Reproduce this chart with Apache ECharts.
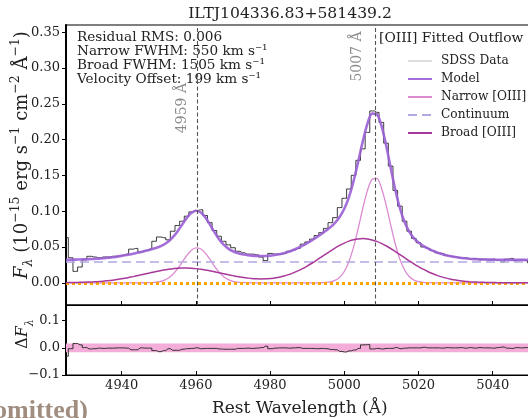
<!DOCTYPE html>
<html><head><meta charset="utf-8">
<script src="https://cdn.jsdelivr.net/npm/echarts@6/dist/echarts.min.js"></script>
<style>html,body{margin:0;padding:0;background:#fff}#c{width:528px;height:418px}</style>
</head><body><div id="c"></div>
<script>
// ---------- data ----------
const wavelength = [
4925,4926.25,4927.5,4928.75,4930,4931.25,4932.5,4933.75,4935,4936.25,
4937.5,4938.75,4940,4941.25,4942.5,4943.75,4945,4946.25,4947.5,4948.75,
4950,4951.25,4952.5,4953.75,4955,4956.25,4957.5,4958.75,4960,4961.25,
4962.5,4963.75,4965,4966.25,4967.5,4968.75,4970,4971.25,4972.5,4973.75,
4975,4976.25,4977.5,4978.75,4980,4981.25,4982.5,4983.75,4985,4986.25,
4987.5,4988.75,4990,4991.25,4992.5,4993.75,4995,4996.25,4997.5,4998.75,
5000,5001.25,5002.5,5003.75,5005,5006.25,5007.5,5008.75,5010,5011.25,
5012.5,5013.75,5015,5016.25,5017.5,5018.75,5020,5021.25,5022.5,5023.75,
5025,5026.25,5027.5,5028.75,5030,5031.25,5032.5,5033.75,5035,5036.25,
5037.5,5038.75,5040,5041.25,5042.5,5043.75,5045,5046.25,5047.5,5048.75,
5050];
const sdssFlux = [
0.063,0.035,0.016,0.022,0.032,0.037,0.036,0.035,0.036,0.036,
0.037,0.037,0.038,0.040,0.047,0.048,0.043,0.045,0.047,0.058,
0.064,0.063,0.060,0.072,0.080,0.086,0.093,0.099,0.101,0.102,
0.094,0.084,0.073,0.065,0.058,0.053,0.049,0.044,0.042,0.040,
0.040,0.039,0.036,0.031,0.041,0.040,0.040,0.041,0.044,0.046,
0.048,0.054,0.057,0.061,0.066,0.070,0.076,0.084,0.091,0.105,
0.118,0.131,0.150,0.171,0.187,0.210,0.240,0.238,0.224,0.195,
0.163,0.129,0.107,0.086,0.072,0.062,0.056,0.050,0.048,0.045,
0.042,0.041,0.038,0.037,0.036,0.034,0.035,0.033,0.034,0.032,
0.033,0.032,0.033,0.031,0.029,0.033,0.034,0.031,0.032,0.031,
0.028];
const modelFlux = [
0.0322,0.0323,0.0324,0.0326,0.0328,0.0331,0.0334,0.0338,0.0343,0.0350,
0.0357,0.0366,0.0376,0.0388,0.0400,0.0414,0.0428,0.0444,0.0459,0.0478,
0.0499,0.0529,0.0572,0.0633,0.0713,0.0808,0.0903,0.0975,0.1007,0.0985,
0.0917,0.0817,0.0708,0.0610,0.0533,0.0478,0.0441,0.0416,0.0399,0.0389,
0.0380,0.0376,0.0374,0.0375,0.0379,0.0388,0.0399,0.0414,0.0434,0.0458,
0.0486,0.0518,0.0554,0.0593,0.0634,0.0678,0.0726,0.0777,0.0838,0.0918,
0.1033,0.1197,0.1420,0.1691,0.1978,0.2223,0.2363,0.2355,0.2198,0.1928,
0.1609,0.1299,0.1041,0.0848,0.0715,0.0624,0.0562,0.0516,0.0480,0.0449,
0.0424,0.0403,0.0385,0.0371,0.0359,0.0349,0.0342,0.0336,0.0331,0.0328,
0.0326,0.0324,0.0323,0.0322,0.0321,0.0321,0.0320,0.0320,0.0320,0.0320,
0.0320];
const narrowFlux = [
0,0,0,0,0,0,0,0,0,0,
0,0,0,0,0,0,0,0.0001,0.0002,0.0006,
0.0014,0.0031,0.0064,0.0116,0.0191,0.0283,0.0377,0.0452,0.0489,0.0475,
0.0417,0.0329,0.0233,0.0149,0.0086,0.0045,0.0021,0.0009,0.0003,0.0001,
0,0,0,0,0,0,0,0,0,0,
0,0,0,0,0,0.0001,0.0005,0.0013,0.0033,0.0076,
0.0158,0.0295,0.0498,0.0758,0.1041,0.1291,0.1444,0.1457,0.1328,0.1091,
0.0810,0.0542,0.0327,0.0178,0.0088,0.0039,0.0016,0.0006,0.0002,0,
0,0,0,0,0,0,0,0,0,0,
0,0,0,0,0,0,0,0,0,0,
0];
const broadFlux = [
0.0002,0.0003,0.0004,0.0006,0.0008,0.0011,0.0014,0.0018,0.0023,0.0030,
0.0037,0.0046,0.0056,0.0068,0.0080,0.0094,0.0108,0.0123,0.0137,0.0152,
0.0165,0.0178,0.0188,0.0197,0.0202,0.0205,0.0206,0.0203,0.0198,0.0190,
0.0180,0.0168,0.0155,0.0141,0.0127,0.0113,0.0100,0.0087,0.0076,0.0068,
0.0060,0.0056,0.0054,0.0055,0.0059,0.0068,0.0079,0.0094,0.0114,0.0138,
0.0166,0.0198,0.0234,0.0273,0.0314,0.0357,0.0401,0.0444,0.0485,0.0522,
0.0555,0.0582,0.0602,0.0613,0.0617,0.0612,0.0599,0.0578,0.0550,0.0517,
0.0479,0.0437,0.0394,0.0350,0.0307,0.0265,0.0226,0.0190,0.0158,0.0129,
0.0104,0.0083,0.0065,0.0051,0.0039,0.0029,0.0022,0.0016,0.0011,0.0008,
0.0006,0.0004,0.0003,0.0002,0.0001,0.0001,0,0,0,0,
0];
const residual = [
-0.031,-0.003,0.016,0.011,0.001,-0.004,-0.003,-0.001,-0.002,-0.001,
-0.001,0,0,-0.001,-0.007,-0.007,0,-0.001,-0.001,-0.010,
-0.014,-0.010,-0.003,-0.009,-0.009,-0.005,-0.003,-0.002,0,-0.003,
-0.002,-0.002,-0.002,-0.004,-0.005,-0.005,-0.005,-0.002,-0.002,-0.001,
-0.002,-0.001,0.001,0.006,-0.003,-0.001,0,0,-0.001,0,
0.001,-0.002,-0.002,-0.002,-0.003,-0.002,-0.003,-0.006,-0.007,-0.013,
-0.015,-0.011,-0.008,-0.002,0.011,0.012,-0.004,-0.002,-0.004,-0.002,
-0.002,0.001,-0.003,-0.001,0,0,0,0.002,0,0,
0,-0.001,0.001,0,0,0.001,-0.001,0.001,-0.001,0.001,
0,0,-0.001,0.001,0.003,-0.001,-0.002,0.001,0,0.001,
0.004];
const continuumLevel = 0.032;
const residualBand = 0.016;
const lineCenters = [4960.295, 5008.24];
const lineLabels = ['4959 Å', '5007 Å'];
const xTicks = [4940, 4960, 4980, 5000, 5020, 5040];
const yTicks = [0, 0.05, 0.10, 0.15, 0.20, 0.25, 0.30, 0.35];
const residTicks = [-0.1, 0, 0.1];
const legendNames = ['SDSS Data', 'Model', 'Narrow [OIII]', 'Continuum', 'Broad [OIII]'];
const titleText = 'ILTJ104336.83+581439.2';
const infoLines = ['Residual RMS: 0.006', 'Narrow FWHM: 550 km s\u207B\u00B9', 'Broad FWHM: 1505 km s\u207B\u00B9', 'Velocity Offset: 199 km s\u207B\u00B9'];

// ---------- chart ----------
const FONT = 'DejaVu Serif';
const C_MODEL = '#9b5fd5', C_NARROW = '#dc8ad2', C_CONT = '#b3a8e2', C_BROAD = '#a8399a';
const chart = echarts.init(document.getElementById('c'), null, {renderer: 'canvas'});
const pts = arr => wavelength.map((w, i) => [w, arr[i]]);
const minus = s => String(s).replace('-', '\u2212');

const xBase = gi => ({
  type: 'value', gridIndex: gi, min: 4925, max: 5051,
  axisLine: {show: true, onZero: false, lineStyle: {color: '#000', width: 1.2}},
  axisTick: {show: true, inside: true, length: 4, customValues: xTicks, lineStyle: {color: '#000', width: 1}},
  splitLine: {show: false}
});
const x0 = xBase(0); x0.axisLabel = {show: false};
const x1 = xBase(1);
x1.axisLabel = {customValues: xTicks, formatter: v => String(v), fontFamily: FONT, fontSize: 13, color: '#222', margin: 4};
x1.name = 'Rest Wavelength (Å)'; x1.nameLocation = 'middle'; x1.nameGap = 25;
x1.nameTextStyle = {fontFamily: FONT, fontSize: 17, color: '#222'};

const option = {
  animation: false,
  backgroundColor: '#fff',
  textStyle: {fontFamily: FONT},
  grid: [
    {left: 66, top: 25, right: -5.5, height: 280, show: true, borderColor: '#000', borderWidth: 1.2, backgroundColor: 'transparent', outerBoundsMode: 'none', containLabel: false},
    {left: 66, top: 305, right: -5.5, height: 70, show: true, borderColor: '#000', borderWidth: 1.2, backgroundColor: 'transparent', outerBoundsMode: 'none', containLabel: false}
  ],
  xAxis: [x0, x1],
  yAxis: [
    {type: 'value', gridIndex: 0, min: -0.031, max: 0.36,
      axisLine: {show: true, onZero: false, lineStyle: {color: '#000', width: 2}},
      axisTick: {show: true, inside: false, length: 4, customValues: yTicks, lineStyle: {color: '#000'}},
      axisLabel: {customValues: yTicks, formatter: v => v.toFixed(2), fontFamily: FONT, fontSize: 13, color: '#222', margin: 6},
      splitLine: {show: false}},
    {type: 'value', gridIndex: 1, min: -0.1, max: 0.158,
      axisLine: {show: true, onZero: false, lineStyle: {color: '#000', width: 2}},
      axisTick: {show: true, inside: false, length: 4, customValues: residTicks, lineStyle: {color: '#000'}},
      axisLabel: {customValues: residTicks, formatter: v => minus(v.toFixed(1)), fontFamily: FONT, fontSize: 13, color: '#222', margin: 6},
      splitLine: {show: false}}
  ],
  legend: {
    orient: 'vertical', left: 407, top: 54, padding: 0, itemWidth: 24, itemHeight: 10, itemGap: 4,
    selectedMode: false,
    itemStyle: {opacity: 0},
    textStyle: {fontFamily: FONT, fontSize: 12.2, color: '#222', lineHeight: 14, padding: [0, 0, 0, 4]},
    data: [{name: legendNames[0], lineStyle: {color: '#bdbdbd', width: 1.2}}, legendNames[1], legendNames[2], legendNames[3], legendNames[4]]
  },
  series: [
    {name: legendNames[0], type: 'line', xAxisIndex: 0, yAxisIndex: 0, data: pts(sdssFlux), step: 'middle', symbol: 'none',
      lineStyle: {color: '#1a1a1a', width: 1, opacity: 0.85}, itemStyle: {color: '#1a1a1a'}, z: 2, silent: true},
    {name: legendNames[1], type: 'line', xAxisIndex: 0, yAxisIndex: 0, data: pts(modelFlux), smooth: 0.3, symbol: 'none',
      lineStyle: {color: C_MODEL, width: 2.6, opacity: 0.9}, itemStyle: {color: C_MODEL}, z: 3, silent: true},
    {name: legendNames[2], type: 'line', xAxisIndex: 0, yAxisIndex: 0, data: pts(narrowFlux), smooth: 0.3, symbol: 'none',
      lineStyle: {color: C_NARROW, width: 1.3}, itemStyle: {color: C_NARROW}, z: 4, silent: true},
    {name: legendNames[3], type: 'line', xAxisIndex: 0, yAxisIndex: 0, data: [], symbol: 'none',
      lineStyle: {color: C_CONT, width: 1.6, type: [9, 5]}, itemStyle: {color: C_CONT}, z: 5, silent: true,
      markLine: {silent: true, symbol: 'none', animation: false, label: {show: false},
        lineStyle: {color: C_CONT, width: 1.6, type: [9, 5]}, data: [{yAxis: continuumLevel}]}},
    {name: legendNames[4], type: 'line', xAxisIndex: 0, yAxisIndex: 0, data: pts(broadFlux), smooth: 0.3, symbol: 'none',
      lineStyle: {color: C_BROAD, width: 1.5}, itemStyle: {color: C_BROAD}, z: 6, silent: true},
    {name: 'zero', type: 'line', xAxisIndex: 0, yAxisIndex: 0, data: [], symbol: 'none', z: 7, silent: true,
      markLine: {silent: true, symbol: 'none', animation: false, label: {show: false},
        data: [
          {yAxis: 0, lineStyle: {color: '#ffa500', width: 3, type: [3, 3]}},
          {xAxis: lineCenters[0], lineStyle: {color: '#555', width: 1.1, type: [4, 2.5]}},
          {xAxis: lineCenters[1], lineStyle: {color: '#555', width: 1.1, type: [4, 2.5]}}
        ]}},
    {name: 'Residual', type: 'line', xAxisIndex: 1, yAxisIndex: 1, data: pts(residual), step: 'middle', symbol: 'none',
      lineStyle: {color: '#333', width: 1}, itemStyle: {color: '#333'}, z: 3, silent: true,
      markArea: {silent: true, itemStyle: {color: '#f4acd9', opacity: 1}, data: [[{yAxis: -residualBand}, {yAxis: residualBand}]]}}
  ]
};
chart.setOption(option);

// annotations positioned through the axes
const lab1 = chart.convertToPixel({gridIndex: 0}, [lineCenters[0], 0.244]);
const lab2 = chart.convertToPixel({gridIndex: 0}, [lineCenters[1], 0.316]);
const txt = (x, y, text, extra) => Object.assign({type: 'text', x: x, y: y, silent: true,
  style: Object.assign({text: text, fill: '#222', fontFamily: FONT, fontSize: 13}, extra || {})});
const supStyle = sz => ({fontSize: sz, fontFamily: FONT, fill: '#222', verticalAlign: 'top', lineHeight: 26});
const baseStyle = sz => ({fontSize: sz, fontFamily: FONT, fill: '#222', lineHeight: 26});
chart.setOption({
  graphic: [
    txt(290, 14, titleText, {fontSize: 15.6, align: 'center', verticalAlign: 'middle'}),
    txt(77, 30, infoLines.join('\n'), {fontSize: 13.6, lineHeight: 14.2, align: 'left', verticalAlign: 'top'}),
    txt(379, 38, '[OIII] Fitted Outflow', {fontSize: 13.8, align: 'left', verticalAlign: 'middle'}),
    Object.assign(txt(lab1[0] - 15, lab1[1], lineLabels[0], {fontSize: 14, fill: '#8c8c8c', align: 'center', verticalAlign: 'middle'}), {rotation: Math.PI / 2}),
    Object.assign(txt(lab2[0] - 17, lab2[1], lineLabels[1], {fontSize: 14, fill: '#8c8c8c', align: 'center', verticalAlign: 'middle'}), {rotation: Math.PI / 2}),
    Object.assign(txt(22, 155, '{i|F}{s|λ}{b| (10}{p|\u221215}{b| erg s}{p|\u22121}{b| cm}{p|\u22122}{b| Å}{p|\u22121}{b|)}', {
      fontSize: 18, align: 'center', verticalAlign: 'middle',
      rich: {i: Object.assign(baseStyle(18), {fontStyle: 'italic'}),
             s: Object.assign(baseStyle(12.5), {fontStyle: 'italic', verticalAlign: 'bottom', lineHeight: 24}),
             b: baseStyle(18),
             p: supStyle(12.5)}}), {rotation: Math.PI / 2}),
    Object.assign(txt(23, 334, '{b|Δ}{i|F}{s|λ}', {
      fontSize: 16, align: 'center', verticalAlign: 'middle',
      rich: {b: baseStyle(16), i: Object.assign(baseStyle(16), {fontStyle: 'italic'}),
             s: Object.assign(baseStyle(11), {fontStyle: 'italic', verticalAlign: 'bottom', lineHeight: 23})}}), {rotation: Math.PI / 2}),
    txt(-6, 398, 'omitted)', {fontFamily: 'Liberation Serif', fontWeight: 'bold', fontSize: 26, fill: '#a08d80', align: 'left', verticalAlign: 'top'})
  ]
});
</script>
</body></html>
